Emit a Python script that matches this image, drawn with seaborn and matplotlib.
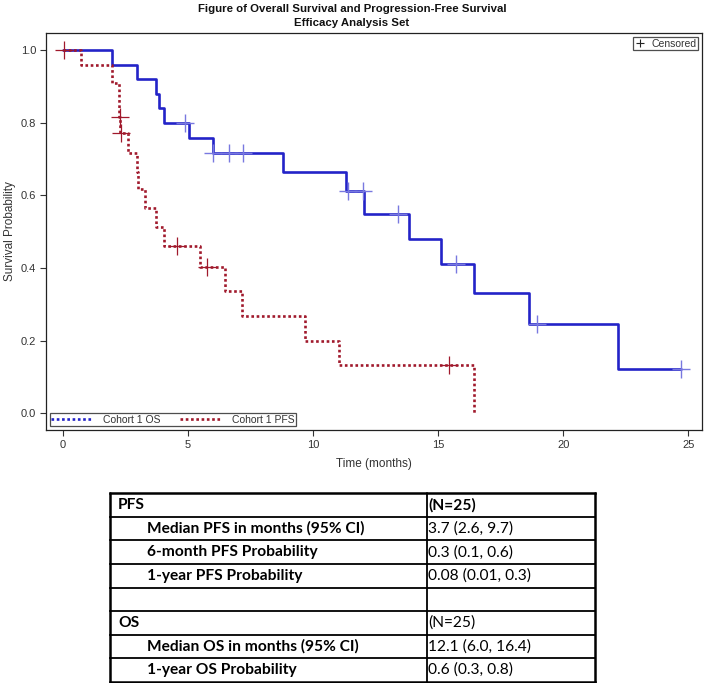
import matplotlib
matplotlib.use("Agg")
import matplotlib.pyplot as plt
from matplotlib import font_manager as fm
from matplotlib.lines import Line2D
import seaborn as sns
import pandas as pd

# ---------------- data ----------------
os_drop_times = [1.97, 2.96, 3.72, 3.85, 4.05, 5.04, 6.01, 8.80, 11.33, 12.05, 13.84, 15.11, 16.44, 18.65, 22.21]
os_levels = [0.96, 0.92, 0.88, 0.84, 0.80, 0.758, 0.716, 0.664, 0.613, 0.549, 0.481, 0.411, 0.330, 0.247, 0.123]
os_end_time = 24.71
os_cens_times = [4.89, 6.01, 6.63, 7.19, 11.41, 12.01, 13.39, 15.72, 18.94, 24.71]
os_cens_surv = [0.80, 0.716, 0.716, 0.716, 0.613, 0.613, 0.549, 0.411, 0.247, 0.123]

pfs_drop_times = [0.74, 1.96, 2.25, 2.30, 2.62, 2.96, 3.02, 3.29, 3.72, 4.05, 5.49, 6.49, 7.15, 9.68, 11.06, 16.44]
pfs_levels = [0.958, 0.910, 0.816, 0.771, 0.716, 0.665, 0.617, 0.564, 0.514, 0.461, 0.404, 0.337, 0.268, 0.200, 0.133, 0.0]
pfs_cens_times = [0.05, 2.29, 2.33, 4.58, 5.78, 15.43]
pfs_cens_surv = [1.0, 0.816, 0.771, 0.461, 0.404, 0.133]

x_ticks = [0, 5, 10, 15, 20, 25]
y_ticks = [0.0, 0.2, 0.4, 0.6, 0.8, 1.0]

series_names = ["Cohort 1 OS", "Cohort 1 PFS"]

table_labels = ["PFS", "Median PFS in months (95% CI)", "6-month PFS Probability",
                "1-year PFS Probability", "", "OS", "Median OS in months (95% CI)",
                "1-year OS Probability"]
table_values = ["(N=25)", "3.7 (2.6, 9.7)", "0.3 (0.1, 0.6)", "0.08 (0.01, 0.3)", "",
                "(N=25)", "12.1 (6.0, 16.4)", "0.6 (0.3, 0.8)"]
table_indent = [0, 1, 1, 1, 0, 0, 1, 1]
table_value_bold = [1, 0, 0, 0, 0, 0, 0, 0]

# ---------------- style ----------------
sns.set_style("ticks")
names = {f.name for f in fm.fontManager.ttflist}
base_font = "Liberation Sans" if "Liberation Sans" in names else "DejaVu Sans"
narrow_font = "Liberation Sans Narrow" if "Liberation Sans Narrow" in names else base_font
table_font = "Lato" if "Lato" in names else base_font
plt.rcParams["font.family"] = [base_font, "DejaVu Sans"]

OS_COLOR = "#2323C8"
OS_CENS = "#7878E0"
PFS_COLOR = "#A0192C"
TXT = "#333333"

W, H = 708, 683
fig = plt.figure(figsize=(W / 100, H / 100), dpi=100)
ax = fig.add_axes([46 / W, 1 - 430 / H, (702 - 46) / W, (430 - 33) / H])

# step curves
os_df = pd.DataFrame({"time": [0.0] + os_drop_times + [os_end_time],
                      "surv": [1.0] + os_levels + [os_levels[-1]]})
pfs_df = pd.DataFrame({"time": [0.0] + pfs_drop_times,
                       "surv": [1.0] + pfs_levels})

sns.lineplot(data=os_df, x="time", y="surv", ax=ax, estimator=None, sort=False,
             drawstyle="steps-post", color=OS_COLOR, linewidth=1.9)
sns.lineplot(data=pfs_df, x="time", y="surv", ax=ax, estimator=None, sort=False,
             drawstyle="steps-post", color=PFS_COLOR, linewidth=1.9,
             linestyle=(0, (1, 1)))

# censor marks
os_c = pd.DataFrame({"time": os_cens_times, "surv": os_cens_surv})
pfs_c = pd.DataFrame({"time": pfs_cens_times, "surv": pfs_cens_surv})
sns.scatterplot(data=os_c, x="time", y="surv", ax=ax, marker="+", s=170,
                color=OS_CENS, linewidth=1.0, zorder=5)
sns.scatterplot(data=pfs_c, x="time", y="surv", ax=ax, marker="+", s=170,
                color=PFS_COLOR, linewidth=0.9, zorder=5)

ax.set_xlim(-0.67, 25.55)
ax.set_ylim(-0.046, 1.047)
ax.set_xticks(x_ticks)
ax.set_xticklabels([str(t) for t in x_ticks])
ax.set_yticks(y_ticks)
ax.set_yticklabels([f"{t:.1f}" for t in y_ticks])
ax.tick_params(axis="both", labelsize=8, colors=TXT, length=4, width=0.8, pad=3)
for s in ax.spines.values():
    s.set_color("#222222")
    s.set_linewidth(0.9)
ax.set_xlabel("Time (months)", fontsize=8.5, color=TXT, labelpad=6)
ax.set_ylabel("Survival Probability", fontsize=8.5, color=TXT)
ax.yaxis.set_label_coords(-0.046, 0.5)

# legends
handles = [Line2D([], [], color=OS_COLOR, lw=1.9, linestyle=(0, (1, 1))),
           Line2D([], [], color=PFS_COLOR, lw=1.9, linestyle=(0, (1, 1)))]
leg = ax.legend(handles, series_names, loc="lower left", ncol=2, fontsize=7.5,
                frameon=True, fancybox=False, edgecolor="#222222",
                borderpad=0.15, handlelength=4.0, handletextpad=1.0,
                columnspacing=1.8, borderaxespad=0.35)
leg.get_frame().set_linewidth(0.9)
for t in leg.get_texts():
    t.set_color(TXT)
ax.add_artist(leg)
leg2 = ax.legend([Line2D([], [], color="#222222", marker="+", linestyle="none",
                         markersize=6, markeredgewidth=0.8)], ["Censored"],
                 loc="upper right", fontsize=7.5, frameon=True, fancybox=False,
                 edgecolor="#222222", borderpad=0.15, handlelength=1.0,
                 handletextpad=0.6, borderaxespad=0.4)
leg2.get_frame().set_linewidth(0.9)
for t in leg2.get_texts():
    t.set_color(TXT)

# title
fig.text(352 / W, 1 - 9 / H, "Figure of Overall Survival and Progression-Free Survival",
         ha="center", va="center", fontsize=8.2, fontweight="bold",
         family=[narrow_font, "DejaVu Sans"], color="#111111")
fig.text(352 / W, 1 - 23 / H, "Efficacy Analysis Set",
         ha="center", va="center", fontsize=8.2, fontweight="bold",
         family=[narrow_font, "DejaVu Sans"], color="#111111")

# table
tax = fig.add_axes([0, 0, 1, 1])
tax.set_xlim(0, W)
tax.set_ylim(H, 0)
tax.axis("off")
t_left, t_right, t_mid = 110, 595, 426.7
t_top, t_bot = 493.3, 681.7
n = len(table_labels)
rh = (t_bot - t_top) / n
for i in range(n + 1):
    yy = t_top + i * rh
    lw = 1.8 if i in (0, n) else 1.3
    tax.plot([t_left, t_right], [yy, yy], color="black", lw=lw, solid_capstyle="projecting")
tax.plot([t_left, t_left], [t_top, t_bot], color="black", lw=1.8)
tax.plot([t_right, t_right], [t_top, t_bot], color="black", lw=1.8)
tax.plot([t_mid, t_mid], [t_top, t_bot], color="black", lw=1.3)
for i in range(n):
    yc = t_top + (i + 0.5) * rh
    xl = 146.7 if table_indent[i] else 118
    tax.text(xl, yc, table_labels[i], ha="left", va="center", fontsize=11.2,
             fontweight="bold", family=[table_font, "DejaVu Sans"], color="black")
    tax.text(t_mid + 1.5, yc, table_values[i], ha="left", va="center", fontsize=11.2,
             fontweight="bold" if table_value_bold[i] else "normal",
             family=[table_font, "DejaVu Sans"], color="black")

fig.savefig("out.png", dpi=100)
